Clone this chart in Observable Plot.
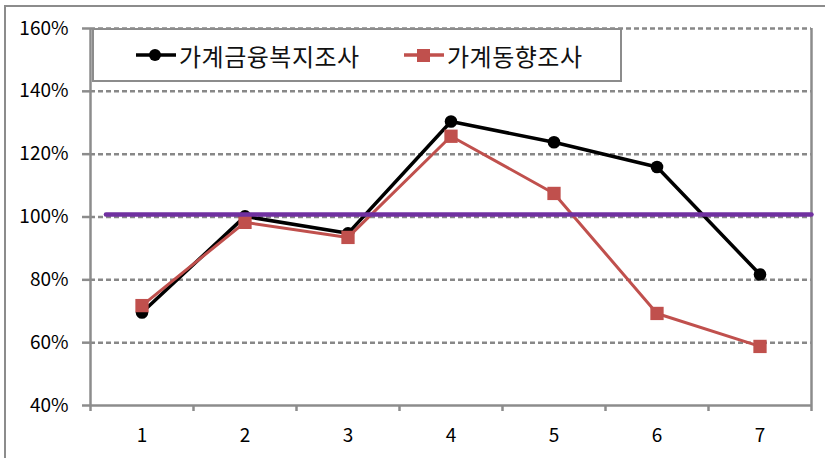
<!DOCTYPE html>
<html>
<head>
<meta charset="utf-8">
<script src="https://cdn.jsdelivr.net/npm/d3@7"></script>
<script src="https://cdn.jsdelivr.net/npm/@observablehq/plot@0.6"></script>
<style>
  html, body { margin: 0; padding: 0; background: #fff; }
  #wrap { position: relative; width: 825px; height: 458px; overflow: hidden; font-family: "Noto Sans CJK KR", "Noto Sans", sans-serif; }
  #outer { position: absolute; left: 4px; top: 5px; width: 900px; height: 600px; border: 2px solid #8c8c8c; box-sizing: border-box; pointer-events: none; }
  #legend { position: absolute; left: 92px; top: 28px; width: 530px; height: 54px; box-sizing: border-box; border: 2px solid #8c8c8c; background: #fff; }
  .entry { position: absolute; top: 0; height: 50px; display: flex; align-items: center; font-size: 24px; letter-spacing: 0.5px; color: #111; }
  .entry svg { margin-right: 2px; }
</style>
</head>
<body>
<div id="wrap">
  <div id="chart"></div>
  <div id="legend"></div>
  <div id="outer"></div>
</div>
<script>
// Survey index by period (percent)
const periods = [1, 2, 3, 4, 5, 6, 7];
const financeWelfareSurvey = [69.6, 100.2, 94.8, 130.4, 123.8, 115.9, 81.7];
const householdTrendSurvey = [71.8, 98.3, 93.5, 125.7, 107.5, 69.3, 58.8];
const seriesNames = ["가계금융복지조사", "가계동향조사"];
const seriesColors = ["#000000", "#C0504D"];
const benchmarkLine = [{x: 0.65, y: 100.8}, {x: 7.5, y: 100.8}];
const yTicks = [40, 60, 80, 100, 120, 140, 160];
const gridTicks = [60, 80, 100, 120, 140, 160];
const categoryEdges = [0.5, 1.5, 2.5, 3.5, 4.5, 5.5, 6.5, 7.5];

const rows = (values) => periods.map((p, i) => ({period: p, value: values[i]}));
const finance = rows(financeWelfareSurvey);
const trend = rows(householdTrendSurvey);

const axisGray = "#8c8c8c";

const chart = Plot.plot({
  width: 825,
  height: 458,
  marginLeft: 90,
  marginRight: 14,
  marginTop: 28,
  marginBottom: 53,
  style: {fontFamily: "'Noto Sans CJK KR', 'Noto Sans', sans-serif", fontSize: "19px", color: "#000", background: "#fff"},
  x: {domain: [0.5, 7.5]},
  y: {domain: [40, 160]},
  marks: [
    Plot.ruleY(gridTicks, {stroke: "#888", strokeWidth: 2.5, strokeDasharray: "5,3"}),
    Plot.ruleX([7.5], {stroke: axisGray, strokeWidth: 2.5}),
    Plot.ruleX([0.5], {stroke: axisGray, strokeWidth: 2.5}),
    Plot.ruleY([40], {stroke: axisGray, strokeWidth: 2.5}),
    Plot.axisY({ticks: yTicks, tickFormat: d => d + "%", tickSize: 8, tickPadding: 14, stroke: axisGray, strokeWidth: 2.5, label: null, fill: "#000", fontSize: 19}),
    Plot.axisX({ticks: categoryEdges, tickFormat: () => "", tickSize: 6, stroke: axisGray, strokeWidth: 2.5, label: null}),
    Plot.axisX({ticks: periods, tickFormat: d => String(d), tickSize: 0, tickPadding: 23, label: null, fill: "#000", fontSize: 19}),
    Plot.line(finance, {x: "period", y: "value", stroke: seriesColors[0], strokeWidth: 3.5}),
    Plot.dot(finance, {x: "period", y: "value", r: 6.3, fill: seriesColors[0]}),
    Plot.line(trend, {x: "period", y: "value", stroke: seriesColors[1], strokeWidth: 3}),
    Plot.dot(trend, {x: "period", y: "value", symbol: "square", r: 7.5, fill: seriesColors[1]}),
    Plot.line(benchmarkLine, {x: "x", y: "y", stroke: "#7030A0", strokeWidth: 4.5})
  ]
});
document.getElementById("chart").append(chart);

// Legend: series swatches with line and marker
const legend = document.getElementById("legend");
const entryLeft = [41, 309];
seriesNames.forEach((name, i) => {
  const entry = document.createElement("div");
  entry.className = "entry";
  entry.style.left = entryLeft[i] + "px";
  const marker = i === 0
    ? `<circle cx="20" cy="10" r="6" fill="${seriesColors[i]}"/>`
    : `<rect x="14" y="4" width="13" height="13" fill="${seriesColors[i]}"/>`;
  entry.innerHTML = `<svg width="42" height="20"><line x1="1" x2="41" y1="10" y2="10" stroke="${seriesColors[i]}" stroke-width="3.5"/>${marker}</svg><span>${name}</span>`;
  legend.append(entry);
});
</script>
</body>
</html>
